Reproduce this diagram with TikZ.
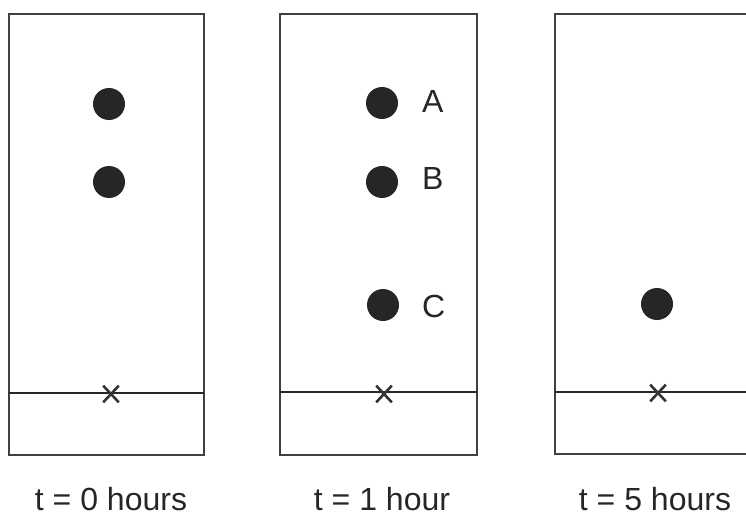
\documentclass[tikz,border=0pt]{standalone}
\usepackage{fontspec}
\setmainfont{Liberation Sans}
\usetikzlibrary{shapes.misc}
\begin{document}
\begin{tikzpicture}[x=1pt,y=-1pt,
  plate/.style={draw=black!75,line width=1.8pt},
  front/.style={draw=black!85,line width=2.2pt},
  spot/.style={circle,fill=black!85,minimum size=32pt,inner sep=0pt},
  lbl/.style={font=\fontsize{32}{38}\selectfont,text=black!85,inner sep=0pt},
  cross/.style={cross out,draw=black!80,line width=2.6pt,minimum width=13pt,minimum height=14pt,inner sep=0pt},
  timelabel/.style={font=\fontsize{32}{38}\selectfont,text=black!85,anchor=base,inner sep=0pt}]
\useasboundingbox (0,0) rectangle (746,516);
% plate 1
\draw[plate] (9,14) rectangle (204,455);
\draw[front] (9,393) -- (204,393);
\node[cross] (x1) at (111,394) {};
\node[spot] (s1a) at (109,104) {};
\node[spot] (s1b) at (109,182) {};
\node[timelabel] (t0) at (111,510) {t = 0 hours};
% plate 2
\draw[plate] (280,14) rectangle (477,455);
\draw[front] (280,392) -- (477,392);
\node[cross] (x2) at (384,394) {};
\node[spot] (sA) at (382,103) {};
\node[spot] (sB) at (382,182) {};
\node[spot] (sC) at (383,305) {};
\node[lbl,anchor=west] (A) at (422,101) {A};
\node[lbl,anchor=west] (B) at (422,178) {B};
\node[lbl,anchor=west] (C) at (422,306) {C};
\node[timelabel] (t1) at (382,510) {t = 1 hour};
% plate 3
\draw[plate] (746,14) -- (555,14) -- (555,454) -- (746,454);
\draw[front] (555,392) -- (746,392);
\node[cross] (x3) at (658,393) {};
\node[spot] (s3) at (657,304) {};
\node[timelabel] (t5) at (655,510) {t = 5 hours};
\end{tikzpicture}
\end{document}
